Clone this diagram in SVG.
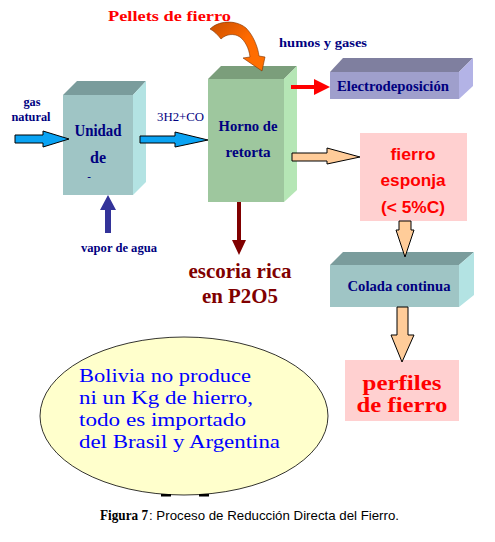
<svg xmlns="http://www.w3.org/2000/svg" width="495" height="542" viewBox="0 0 495 542">
<defs>
<style>
.nv{font-family:"Liberation Serif",serif;font-weight:bold;fill:#000080}
.rs{font-family:"Liberation Serif",serif;font-weight:bold;fill:#ff0000}
.dr{font-family:"Liberation Serif",serif;font-weight:bold;fill:#800000}
.rsans{font-family:"Liberation Sans",sans-serif;font-weight:bold;fill:#ff0000}
.blue{font-family:"Liberation Serif",serif;fill:#0000ff}
.ol{stroke:#000;stroke-width:1}
.cy1{fill:#9fc5c5}.cy2{fill:#7a9c9c}.cy3{fill:#b3e3e3}
</style>
<linearGradient id="og" x1="0" y1="0" x2="1" y2="1">
<stop offset="0" stop-color="#c94f00"/>
<stop offset="0.5" stop-color="#ff6a00"/>
<stop offset="1" stop-color="#ff7000"/>
</linearGradient>
</defs>
<rect width="495" height="542" fill="#fff"/>

<g id="unidad">
<rect class="cy1" x="63" y="95" width="70" height="100"/>
<polygon class="cy2" points="63,95 77,81 146,81 133,95"/>
<polygon class="cy3" points="133,95 146,81 146,182 133,195"/>
<text class="nv" x="98" y="136" font-size="16" text-anchor="middle" textLength="47" lengthAdjust="spacingAndGlyphs">Unidad</text>
<text class="nv" x="98" y="163" font-size="16" text-anchor="middle">de</text>
<text class="nv" x="89" y="180" font-size="11" text-anchor="middle">-</text>
</g>

<g id="horno">
<rect x="208" y="79" width="76" height="123" fill="#9ec79e"/>
<polygon points="208,79 221,66 297,66 284,79" fill="#7b9e7b"/>
<polygon points="284,79 297,66 297,190 284,202" fill="#b5e6b5"/>
<text class="nv" x="248" y="131" font-size="14" text-anchor="middle" textLength="59" lengthAdjust="spacingAndGlyphs">Horno de</text>
<text class="nv" x="248" y="157" font-size="14" text-anchor="middle" textLength="45" lengthAdjust="spacingAndGlyphs">retorta</text>
</g>

<g id="electro">
<rect x="330" y="72" width="129" height="27" fill="#9f9fcc"/>
<polygon points="330,72 343,58 473,58 459,72" fill="#7f7f9f"/>
<polygon points="459,72 473,58 473,86 459,99" fill="#b3b3e6"/>
<text class="nv" x="337" y="91" font-size="14" textLength="112" lengthAdjust="spacingAndGlyphs">Electrodeposición</text>
</g>

<g id="esponja">
<rect x="360" y="133" width="107" height="88" fill="#ffd0d0"/>
<text class="rsans" x="413" y="160" font-size="16" text-anchor="middle" textLength="45" lengthAdjust="spacingAndGlyphs">fierro</text>
<text class="rsans" x="413" y="186" font-size="16" text-anchor="middle" textLength="65" lengthAdjust="spacingAndGlyphs">esponja</text>
<text class="rsans" x="413" y="213" font-size="16" text-anchor="middle" textLength="64" lengthAdjust="spacingAndGlyphs">(&lt; 5%C)</text>
</g>

<g id="colada">
<rect class="cy1" x="330" y="265" width="129" height="42"/>
<polygon class="cy2" points="330,265 343,252 474,252 459,265"/>
<polygon class="cy3" points="459,265 474,252 474,295 459,307"/>
<text class="nv" x="399" y="291" font-size="14" text-anchor="middle" textLength="103" lengthAdjust="spacingAndGlyphs">Colada continua</text>
</g>

<g id="perfiles">
<rect x="345" y="360" width="114" height="61" fill="#ffd0d0"/>
<text class="rs" x="402" y="390" font-size="20" text-anchor="middle" textLength="79" lengthAdjust="spacingAndGlyphs">perfiles</text>
<text class="rs" x="402" y="412" font-size="20" text-anchor="middle" textLength="91" lengthAdjust="spacingAndGlyphs">de fierro</text>
</g>

<g id="escoria">
<text class="dr" x="240" y="278" font-size="21" text-anchor="middle" textLength="103" lengthAdjust="spacingAndGlyphs">escoria rica</text>
<text class="dr" x="240" y="303" font-size="21" text-anchor="middle" textLength="76" lengthAdjust="spacingAndGlyphs">en P2O5</text>
</g>

<g id="nota">
<ellipse cx="184" cy="416" rx="144" ry="79" fill="#ffffcc" stroke="#000" stroke-width="0.8"/>
<rect x="161" y="494" width="10" height="2.5" fill="#000"/>
<rect x="199" y="494" width="10" height="2.5" fill="#000"/>
<text class="blue" x="79" y="382" font-size="19" textLength="172" lengthAdjust="spacingAndGlyphs">Bolivia no produce</text>
<text class="blue" x="79" y="404" font-size="19" textLength="174" lengthAdjust="spacingAndGlyphs">ni un Kg de hierro,</text>
<text class="blue" x="79" y="426" font-size="19" textLength="167" lengthAdjust="spacingAndGlyphs">todo es importado</text>
<text class="blue" x="79" y="448" font-size="19" textLength="201" lengthAdjust="spacingAndGlyphs">del Brasil y Argentina</text>
</g>

<g id="labels">
<text class="rs" x="108" y="21" font-size="15" textLength="123" lengthAdjust="spacingAndGlyphs">Pellets de fierro</text>
<text class="nv" x="279" y="47" font-size="13" textLength="88" lengthAdjust="spacingAndGlyphs">humos y gases</text>
<text class="nv" x="32" y="106" font-size="12" text-anchor="middle" textLength="17" lengthAdjust="spacingAndGlyphs">gas</text>
<text class="nv" x="31" y="121" font-size="12" text-anchor="middle" textLength="39" lengthAdjust="spacingAndGlyphs">natural</text>
<text x="157" y="121" font-size="13" fill="#000080" font-family="Liberation Serif, serif" textLength="47" lengthAdjust="spacingAndGlyphs">3H2+CO</text>
<text class="nv" x="81" y="252" font-size="12" textLength="76" lengthAdjust="spacingAndGlyphs">vapor de agua</text>
</g>

<g id="connectors">
<path d="M15,135 H43 V131 L69,139 L43,147 V143 H15 Z" fill="#0aa3f3" class="ol"/>
<path d="M140,136 H175 V132 L208,140 L175,147 V143 H140 Z" fill="#0aa3f3" class="ol"/>
<path d="M105,233 V210 H100 L108,195 L116,210 H111 V233 Z" fill="#333399"/>
<path d="M210,29 C218,21 235,19 246,28 C253,35 258,47 259,56 L265,57 L262,71 L243,58 L250,57 C249,48 245,41 240,37 C234,33 226,34 221,39 C218,35 214,31 210,29 Z" fill="url(#og)" stroke="#7a3000" stroke-width="0.6"/>
<path d="M291,85 H314 V79 L330,87 L314,95 V89 H291 Z" fill="#ff0000"/>
<path d="M237,202 V240 H232 L239,255 L246,240 H241 V202 Z" fill="#800000"/>
<path d="M292,153 H327 V148 L360,157 L327,164 V161 H292 Z" fill="#ffcc99" class="ol"/>
<path d="M399,221 V230 H396 L405,257 L414,230 H411 V221 Z" fill="#ffcc99" class="ol"/>
<path d="M397,307 V335 H391 L402,362 L414,335 H408 V307 Z" fill="#ffcc99" class="ol"/>
</g>

<g id="caption">
<text y="520" font-size="13" font-family="Liberation Sans, sans-serif"><tspan x="100" font-family="Liberation Serif, serif" font-weight="bold" font-size="14" textLength="48" lengthAdjust="spacingAndGlyphs">Figura 7</tspan><tspan x="149" textLength="250" lengthAdjust="spacingAndGlyphs">: Proceso de Reducción Directa del Fierro.</tspan></text>
</g>
</svg>
